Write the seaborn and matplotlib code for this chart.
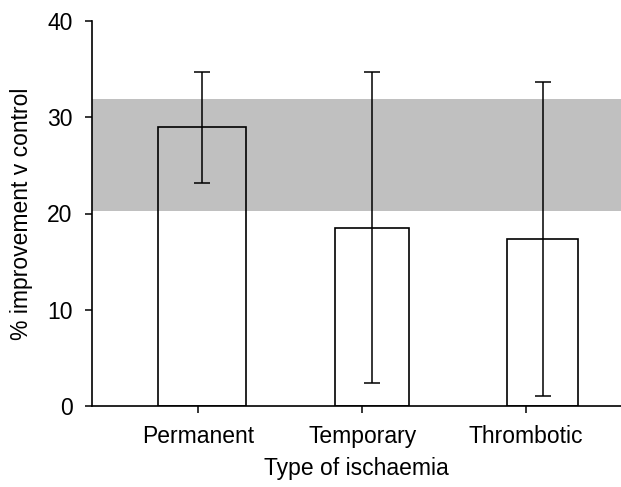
import matplotlib
matplotlib.use("Agg")
import matplotlib.pyplot as plt
import seaborn as sns
import pandas as pd
import numpy as np

categories = ["Permanent", "Temporary", "Thrombotic"]
means = [29.0, 18.5, 17.4]
err_low = [23.2, 2.35, 1.05]
err_high = [34.7, 34.7, 33.7]
band_low = 20.3
band_high = 31.9
yticks = [0, 10, 20, 30, 40]

sns.set_style("white")
plt.rcParams["font.family"] = ["Liberation Sans", "DejaVu Sans"]
plt.rcParams["text.color"] = "black"
plt.rcParams["axes.labelcolor"] = "black"
plt.rcParams["xtick.color"] = "black"
plt.rcParams["ytick.color"] = "black"

fig = plt.figure(figsize=(6.21, 4.87), dpi=100)
ax = fig.add_axes([92 / 621, (487 - 406) / 487, 1 - 92 / 621, (406 - 21) / 487])

df = pd.DataFrame({"type": categories, "value": means})
sns.barplot(data=df, x="type", y="value", ax=ax, width=0.46, fill=False,
            color="black", linewidth=1.2, errorbar=None, zorder=2)
bars = list(ax.patches)
widths = [0.52, 0.435, 0.42]
for p, w in zip(bars, widths):
    p.set_edgecolor("black")
    p.set_facecolor("none")
    c = p.get_x() + p.get_width() / 2
    p.set_x(c - w / 2)
    p.set_width(w)

ax.axhspan(band_low, band_high, color="#c0c0c0", lw=0, zorder=0)

x = np.arange(len(categories))
m = np.array(means)
lo = m - np.array(err_low)
hi = np.array(err_high) - m
ax.errorbar(x, m, yerr=[lo, hi], fmt="none", ecolor="black", elinewidth=1.1,
            capsize=6, capthick=1.1, zorder=3)

ax.set_ylim(0, 40)
ax.set_xlim(-0.647, 2.46)
ax.set_yticks(yticks)
ax.set_xticks([-0.025, 0.94, 1.9])
ax.set_xticklabels(categories)
ax.set_ylabel("% improvement v control", fontsize=16.5, labelpad=10)
ax.set_xlabel("Type of ischaemia", fontsize=16.5, labelpad=6)
ax.tick_params(axis="both", labelsize=16.5, direction="out", length=5, width=1.1,
               color="black", labelcolor="black", left=True, bottom=True)
ax.tick_params(axis="y", pad=9)
ax.tick_params(axis="x", pad=9)
for s in ["top", "right"]:
    ax.spines[s].set_visible(False)
for s in ["left", "bottom"]:
    ax.spines[s].set_color("black")
    ax.spines[s].set_linewidth(1.2)

fig.savefig("out.png", dpi=100)
